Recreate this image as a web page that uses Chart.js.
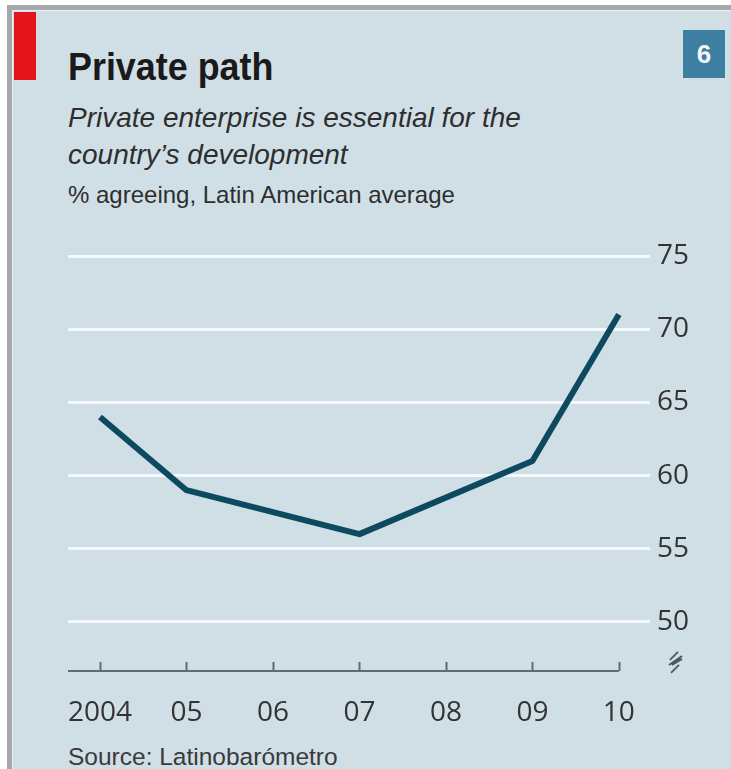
<!DOCTYPE html>
<html>
<head>
<meta charset="utf-8">
<script src="https://cdn.jsdelivr.net/npm/chart.js@4"></script>
<style>
  html, body { margin: 0; padding: 0; background: #fff; }
  body { width: 731px; height: 769px; position: relative; overflow: hidden; }
  .frame { position: absolute; left: 7px; top: 5px; right: -20px; bottom: -20px;
    background: #d0dfe6; border-left: 5px solid #a6a8a9; border-top: 5px solid #a6a8a9;
    box-shadow: inset 1px 1px 0 #eaf1f4; }
  .redbar { position: absolute; left: 14px; top: 12px; width: 22px; height: 68px; background: #e3141c; }
  .num { position: absolute; left: 683px; top: 30px; width: 42px; height: 48px; background: #3d7fa0;
    color: #f4f8fa; font: bold 26px 'Liberation Sans', sans-serif;
    text-align: center; line-height: 48px; }
  .txt { position: absolute; left: 68px; color: #222; white-space: nowrap;
    font-family: 'Liberation Sans Narrow', 'Liberation Sans', sans-serif; transform-origin: 0 0; }
  .title { top: 45px; font-size: 39px; font-weight: bold; color: #1a1a1a; transform: scaleX(0.92); }
  .sub { font-size: 28px; font-style: italic; color: #2e2e2e; }
  .unit { top: 181px; font-size: 24px; color: #2e2e2e; }
  .source { top: 743px; font-size: 24.5px; color: #3a3a3a; }
  canvas { position: absolute; left: 0; top: 0; }
</style>
</head>
<body>
<div class="frame"></div>
<div class="redbar"></div>
<div class="num">6</div>
<div class="txt title">Private path</div>
<div class="txt sub" style="top:102px">Private enterprise is essential for the</div>
<div class="txt sub" style="top:139px">country’s development</div>
<div class="txt unit">% agreeing, Latin American average</div>
<div class="txt source">Source: Latinobarómetro</div>
<div style="position:absolute;left:0;top:0;width:731px;height:769px">
  <canvas id="chart"></canvas>
</div>
<script>
// Survey years and their axis labels
const years = [2004, 2005, 2006, 2007, 2008, 2009, 2010];
const yearLabels = ['2004', '05', '06', '07', '08', '09', '10'];
// % agreeing; no reading for 2006 and 2008
const agreeing = [64, 59, null, 56, null, 61, 71];
const yTicks = [50, 55, 60, 65, 70, 75];

const tickFont = { family: "'Open Sans', sans-serif", size: 28 };

// baseline with small upward ticks, plus the broken-axis mark under 50
const axisDecor = {
  id: 'axisDecor',
  afterDraw(chart) {
    const { ctx, chartArea, scales: { x, y } } = chart;
    const base = chartArea.bottom;
    ctx.save();
    ctx.strokeStyle = '#5d6d75';
    ctx.lineWidth = 2;
    ctx.beginPath();
    ctx.moveTo(chartArea.left, base);
    ctx.lineTo(x.getPixelForValue(years[years.length - 1]), base);
    years.forEach(yr => {
      const px = Math.round(x.getPixelForValue(yr)) + 0.5;
      ctx.moveTo(px, base);
      ctx.lineTo(px, base - 9);
    });
    ctx.stroke();

    // zig-zag break symbol
    const bx = chartArea.right + 26;
    const by = y.getPixelForValue(50) + 40;
    ctx.strokeStyle = '#4b5a62';
    ctx.lineWidth = 1.8;
    ctx.beginPath();
    ctx.moveTo(bx - 6, by - 2);
    ctx.lineTo(bx + 2, by - 10);
    ctx.moveTo(bx - 7, by + 3);
    ctx.lineTo(bx + 6, by - 6);
    ctx.lineTo(bx - 4, by + 3);
    ctx.lineTo(bx + 6, by - 3);
    ctx.moveTo(bx - 5, by + 11);
    ctx.lineTo(bx + 3, by + 3);
    ctx.stroke();
    ctx.restore();
  }
};

new Chart(document.getElementById('chart'), {
  type: 'line',
  data: {
    datasets: [{
      data: years.map((yr, i) => ({ x: yr, y: agreeing[i] })),
      borderColor: '#0e4a5f',
      borderWidth: 6,
      borderJoinStyle: 'round',
      pointRadius: 0,
      tension: 0,
      spanGaps: true
    }]
  },
  options: {
    responsive: true,
    maintainAspectRatio: false,
    animation: false,
    layout: { padding: { left: 68, top: 256, right: 0, bottom: 0 } },
    plugins: { legend: { display: false }, tooltip: { enabled: false } },
    scales: {
      x: {
        type: 'linear',
        min: 2003.63,
        max: 2010.36,
        afterBuildTicks: s => { s.ticks = years.map(v => ({ value: v })); },
        afterFit: s => { s.height = 98; },
        grid: { display: false, drawTicks: false },
        border: { display: false },
        ticks: {
          padding: 25,
          color: '#333',
          font: tickFont,
          callback: v => yearLabels[years.indexOf(v)]
        }
      },
      y: {
        position: 'right',
        min: 46.65,
        max: 75,
        afterBuildTicks: s => { s.ticks = yTicks.map(v => ({ value: v })); },
        afterFit: s => { s.width = 81; },
        grid: { color: '#f4f8fa', lineWidth: 3, drawTicks: false },
        border: { display: false },
        ticks: { padding: 7, color: '#333', font: tickFont }
      }
    }
  },
  plugins: [axisDecor]
});
</script>
</body>
</html>
